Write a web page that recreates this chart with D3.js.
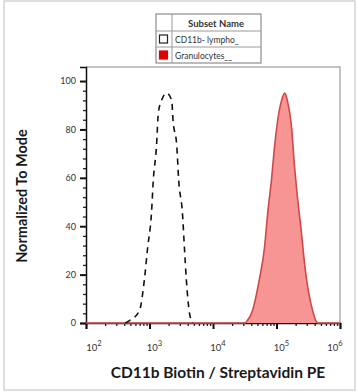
<html><head>
<script src="https://d3js.org/d3.v7.min.js"></script>
<style>
  body { margin: 0; background: #fff; }
  text { font-family: Lato, "Open Sans", sans-serif; }
</style>
</head>
<body>
<script>
// lymphocyte (CD11b-) histogram: log10 of intensity, % of mode
var lymphoLog = [2.0, 2.62, 2.685, 2.84, 2.92, 2.97, 3.03, 3.06, 3.11, 3.14, 3.19, 3.27, 3.35, 3.37, 3.43, 3.46, 3.52, 3.55, 3.58, 3.63, 3.68, 6.0];
var lymphoVal = [0, 0, 1, 5, 18, 31, 45, 59, 73, 87, 92, 95, 92, 84, 73, 59, 45, 31, 18, 4, 0, 0];

// granulocyte histogram
var granLog = [2.0, 4.5, 4.54, 4.62, 4.73, 4.81, 4.86, 4.92, 4.97, 5.02, 5.08, 5.13, 5.17, 5.24, 5.28, 5.33, 5.39, 5.44, 5.51, 5.57, 5.62, 5.65, 6.0];
var granVal = [0, 0, 1, 5, 18, 31, 45, 59, 73, 84, 92, 95, 92, 80, 66, 52, 38, 25, 12, 5, 1, 0, 0];

var yTicks = [0, 20, 40, 60, 80, 100];
var xDecades = [2, 3, 4, 5, 6];
var legendNames = ["CD11b- lympho_", "Granulocytes__"];

var W = 358, H = 392;
var pL = 86, pR = 340, pT = 67, pB = 323;

var svg = d3.select("body").append("svg")
  .attr("width", W).attr("height", H);

// outer frame
svg.append("rect").attr("x", 4).attr("y", 1).attr("width", 351).attr("height", 389)
  .attr("fill", "none").attr("stroke", "#d4d4d4").attr("stroke-width", 1.5);

var x = d3.scaleLog().domain([Math.pow(10, 2), 1e6]).range([pL, pR]);
var y = d3.scaleLinear().domain([0, 105.8]).range([pB, pT]);

// plot box (top/right light gray)
svg.append("path")
  .attr("d", "M" + pL + "," + pT + "H" + pR + "V" + pB)
  .attr("fill", "none").attr("stroke", "#b0b0b0").attr("stroke-width", 1.5);

var gran = granLog.map(function(l, i) { return [Math.pow(10, l), granVal[i]]; });
var lympho = lymphoLog.map(function(l, i) { return [Math.pow(10, l), lymphoVal[i]]; });

var area = d3.area().curve(d3.curveMonotoneX)
  .x(function(d) { return x(d[0]); })
  .y0(y(0))
  .y1(function(d) { return y(d[1]); });
var line = d3.line().curve(d3.curveMonotoneX)
  .x(function(d) { return x(d[0]); })
  .y(function(d) { return y(d[1]); });

// x axis
var minor = [];
for (var e = 2; e < 6; e++) {
  for (var m = 2; m < 10; m++) minor.push(m * Math.pow(10, e));
}
svg.append("g").attr("transform", "translate(0," + pB + ")")
  .call(d3.axisBottom(x).tickValues(minor).tickSize(3).tickFormat(""))
  .call(function(g) { g.select(".domain").remove(); })
  .selectAll("line").attr("stroke", "#222").attr("stroke-width", 1.3);
var xAxis = svg.append("g").attr("transform", "translate(0," + pB + ")")
  .call(d3.axisBottom(x).tickValues(xDecades.map(function(d) { return Math.pow(10, d); }))
    .tickSize(6).tickFormat(""));
xAxis.select(".domain").attr("stroke", "#111").attr("stroke-width", 1.5);
xAxis.selectAll("line").attr("stroke", "#111").attr("stroke-width", 2);

var xl = svg.append("g");
xDecades.forEach(function(dd, i) {
  var px = x(Math.pow(10, dd)) + (i == 0 ? 8 : (i == 4 ? -5 : 5));
  var t = xl.append("text").attr("x", px).attr("y", pB + 28)
    .attr("text-anchor", "middle").attr("fill", "#333").attr("font-size", 9.5);
  t.append("tspan").text("10");
  t.append("tspan").attr("dy", -5).attr("font-size", 7.5).text(dd);
});

// y axis
var yMinor = d3.range(0, 101, 4).filter(function(v) { return v % 20 != 0; });
svg.append("g").attr("transform", "translate(" + pL + ",0)")
  .call(d3.axisLeft(y).tickValues(yMinor).tickSize(3).tickFormat(""))
  .call(function(g) { g.select(".domain").remove(); })
  .selectAll("line").attr("stroke", "#222").attr("stroke-width", 1.3);
var yAxis = svg.append("g").attr("transform", "translate(" + pL + ",0)")
  .call(d3.axisLeft(y).tickValues(yTicks).tickSize(6).tickPadding(4));
yAxis.select(".domain").attr("stroke", "#111").attr("stroke-width", 1.5);
yAxis.selectAll("line").attr("stroke", "#111").attr("stroke-width", 2);
yAxis.selectAll("text").attr("font-family", "Lato, sans-serif").attr("font-size", 9).attr("fill", "#333");

// histograms
svg.append("path").datum(gran).attr("d", area)
  .attr("fill", "#f79494").attr("stroke", "none");
svg.append("path").datum(gran).attr("d", line)
  .attr("fill", "none").attr("stroke", "#d04848").attr("stroke-width", 1.6);
svg.append("path").datum(lympho.slice(1, lympho.length - 1)).attr("d", line)
  .attr("fill", "none").attr("stroke", "#111").attr("stroke-width", 1.6)
  .attr("stroke-dasharray", "6,5");

// axis titles
svg.append("text").attr("x", 218).attr("y", 378).attr("text-anchor", "middle")
  .attr("font-size", 15.5).attr("font-weight", "bold").attr("fill", "#1a1a1a")
  .text("CD11b Biotin / Streptavidin PE");
svg.append("text").attr("transform", "translate(27,196) rotate(-90)")
  .attr("text-anchor", "middle").attr("font-size", 14.5).attr("font-weight", "bold")
  .attr("fill", "#1a1a1a").text("Normalized To Mode");

// legend table
var lg = svg.append("g").attr("transform", "translate(156,14)");
var lw = 105;
lg.append("rect").attr("width", lw).attr("height", 49)
  .attr("fill", "#fff").attr("stroke", "#777").attr("stroke-width", 1);
lg.append("line").attr("x1", 0).attr("x2", lw).attr("y1", 17).attr("y2", 17).attr("stroke", "#999");
lg.append("line").attr("x1", 0).attr("x2", lw).attr("y1", 33).attr("y2", 33).attr("stroke", "#999");
lg.append("line").attr("x1", 16).attr("x2", 16).attr("y1", 0).attr("y2", 49).attr("stroke", "#999");
lg.append("text").attr("x", 60).attr("y", 12.5).attr("text-anchor", "middle")
  .attr("font-size", 9.5).attr("font-weight", "bold").attr("fill", "#333").text("Subset Name");
legendNames.forEach(function(n, i) {
  var yy = 17 + i * 16;
  lg.append("rect").attr("x", 3.5).attr("y", yy + 4).attr("width", 8).attr("height", 8)
    .attr("fill", i == 0 ? "#fff" : "#e00000")
    .attr("stroke", i == 0 ? "#222" : "#e00000").attr("stroke-width", 1.2);
  lg.append("text").attr("x", 19).attr("y", yy + 11.5)
    .attr("font-size", 8.5).attr("fill", "#333").text(n);
});
</script>
</body></html>
